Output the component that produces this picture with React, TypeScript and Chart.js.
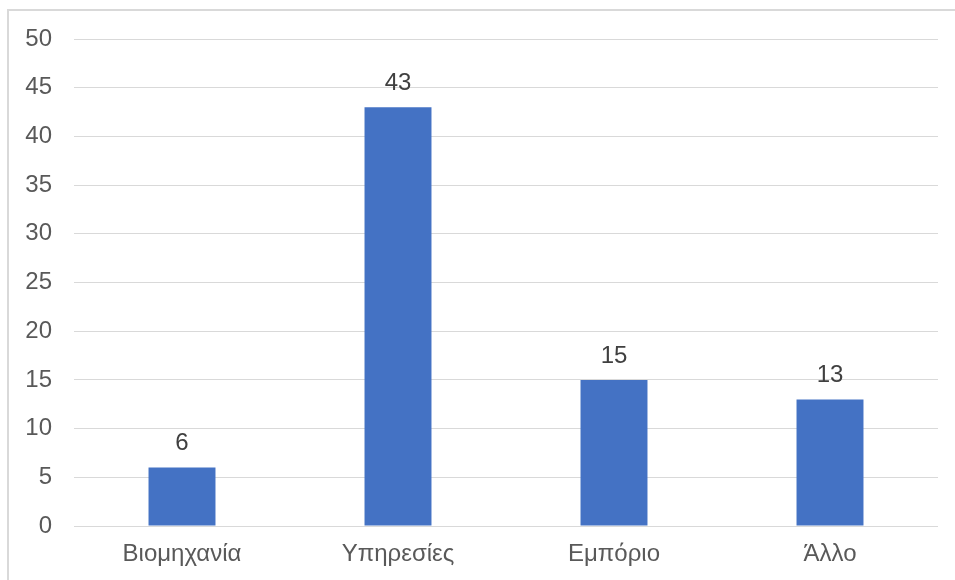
import React, { useEffect, useRef } from "react";
import { Chart, registerables } from "chart.js";

Chart.register(...registerables);

const categories = ["Βιομηχανία", "Υπηρεσίες", "Εμπόριο", "Άλλο"];
const values = [6, 43, 15, 13];
const yMin = 0;
const yMax = 50;
const yStep = 5;

const FONT = "'Liberation Sans', Arial, sans-serif";
const FONT_SIZE = 24;

// Writes each bar's value just above its top edge.
const valueLabels = {
  id: "valueLabels",
  afterDatasetsDraw(chart: any) {
    const { ctx } = chart;
    const meta = chart.getDatasetMeta(0);
    ctx.save();
    ctx.font = `${FONT_SIZE}px ${FONT}`;
    ctx.fillStyle = "#404040";
    ctx.textAlign = "center";
    ctx.textBaseline = "middle";
    meta.data.forEach((bar: any, i: number) => {
      ctx.fillText(String(values[i]), bar.x, bar.y - 24);
    });
    ctx.restore();
  },
};

export default function App() {
  const canvasRef = useRef<HTMLCanvasElement | null>(null);

  useEffect(() => {
    if (!canvasRef.current) return;
    const chart = new Chart(canvasRef.current, {
      type: "bar",
      data: {
        labels: categories,
        datasets: [
          {
            data: values,
            backgroundColor: "#4472C4",
            borderWidth: 0,
            categoryPercentage: 1,
            barPercentage: 0.31,
          },
        ],
      },
      options: {
        animation: false,
        responsive: false,
        maintainAspectRatio: false,
        layout: { padding: { top: 39, right: 17, bottom: 0, left: 0 } },
        plugins: {
          legend: { display: false },
          tooltip: { enabled: false },
        },
        scales: {
          x: {
            grid: { display: false, drawTicks: false },
            border: { display: false },
            ticks: {
              color: "#595959",
              font: { family: FONT, size: FONT_SIZE },
              padding: 14,
              maxRotation: 0,
            },
            afterFit(scale: any) {
              scale.height = 54;
            },
          },
          y: {
            min: yMin,
            max: yMax,
            grid: { color: "#d9d9d9", lineWidth: 1, drawTicks: false },
            border: { display: false },
            ticks: {
              stepSize: yStep,
              color: "#595959",
              font: { family: FONT, size: FONT_SIZE },
              padding: 22,
            },
            afterFit(scale: any) {
              scale.width = 74;
            },
          },
        },
      },
      plugins: [valueLabels],
    });
    return () => chart.destroy();
  }, []);

  return (
    <div style={{ position: "fixed", left: 0, top: 0, width: 955, height: 580, background: "#fff" }}>
      <div
        style={{
          position: "absolute",
          left: 7,
          top: 9,
          width: 948,
          height: 571,
          borderTop: "2px solid #d9d9d9",
          borderLeft: "2px solid #d9d9d9",
          boxSizing: "border-box",
        }}
      />
      <canvas
        ref={canvasRef}
        width={955}
        height={580}
        style={{ position: "absolute", left: 0, top: 0, width: 955, height: 580 }}
      />
    </div>
  );
}
